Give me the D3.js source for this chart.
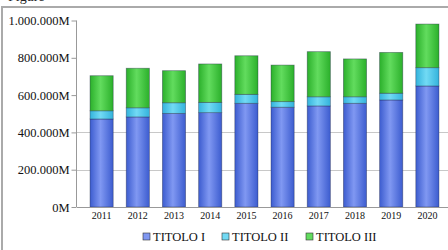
<!DOCTYPE html>
<html>
<head>
<meta charset="utf-8">
<script src="https://cdn.jsdelivr.net/npm/d3@7"></script>
<style>
  body { margin: 0; background: #fff; }
  svg { display: block; font-family: "Liberation Serif", "DejaVu Serif", serif; }
</style>
</head>
<body>
<svg id="chart" width="448" height="250"></svg>
<script>
// values (in M)
const years = ["2011", "2012", "2013", "2014", "2015", "2016", "2017", "2018", "2019", "2020"];
const titolo1 = [472000, 483000, 502000, 506000, 556000, 535000, 542000, 556000, 574000, 649000];
const titolo2 = [44000, 49000, 57000, 55000, 48000, 30000, 49000, 35000, 36000, 98000];
const titolo3 = [188000, 212000, 172000, 206000, 207000, 196000, 242000, 203000, 219000, 234000];
const seriesNames = ["TITOLO I", "TITOLO II", "TITOLO III"];
const yTicks = [0, 200000, 400000, 600000, 800000, 1000000];

const colors = {
  "TITOLO I": ["#3c5ccf", "#8098f2"],
  "TITOLO II": ["#33b3dc", "#72daf4"],
  "TITOLO III": ["#2bb02b", "#62dc5e"]
};

const svg = d3.select("#chart");
const W = 448, H = 250;

// frame + caption above it (cut off at the top, as in the picture)
svg.append("text").attr("x", 8).attr("y", 1)
  .attr("font-size", 14).attr("fill", "#222").text("Figure");
svg.append("rect").attr("x", 2).attr("y", 7).attr("width", W + 10).attr("height", H)
  .attr("fill", "#fff").attr("stroke", "#aaa").attr("stroke-width", 2);

const m = { left: 77, top: 20.5, bottom: 207 };
const x = d3.scaleBand().domain(years).range([m.left, m.left + 375]).padding(0.36);
const y = d3.scaleLinear().domain([0, 1000000]).range([m.bottom, m.top]);

// gradients for cylinder look
const defs = svg.append("defs");
seriesNames.forEach((s, i) => {
  const g = defs.append("linearGradient").attr("id", "g" + i)
    .attr("x1", "0%").attr("x2", "100%").attr("y1", "0%").attr("y2", "0%");
  g.append("stop").attr("offset", "0%").attr("stop-color", colors[s][0]);
  g.append("stop").attr("offset", "45%").attr("stop-color", colors[s][1]);
  g.append("stop").attr("offset", "100%").attr("stop-color", colors[s][0]);
});

// grid
svg.append("g").selectAll("line").data(yTicks.slice(1, 3)).join("line")
  .attr("x1", m.left).attr("x2", W)
  .attr("y1", d => Math.round(y(d)) + 0.5).attr("y2", d => Math.round(y(d)) + 0.5)
  .attr("stroke", "#c8c8c8");

// stacked bars
const rows = years.map((yr, i) => ({ year: yr, "TITOLO I": titolo1[i], "TITOLO II": titolo2[i], "TITOLO III": titolo3[i] }));
const stack = d3.stack().keys(seriesNames)(rows);

svg.append("g").selectAll("g").data(stack).join("g")
  .attr("fill", (d, i) => `url(#g${i})`)
  .selectAll("rect").data(d => d).join("rect")
  .attr("x", d => x(d.data.year))
  .attr("width", x.bandwidth())
  .attr("y", d => y(d[1]))
  .attr("height", d => y(d[0]) - y(d[1]))
  .attr("stroke", "#1c2440").attr("stroke-opacity", 0.45).attr("stroke-width", 0.8);

// y axis
const yAxis = svg.append("g").attr("transform", `translate(${m.left - 0.5},0)`)
  .call(d3.axisLeft(y).tickValues(yTicks).tickSize(5).tickPadding(2)
    .tickFormat(d => d3.format(",")(d).replace(/,/g, ".") + "M"));
yAxis.select(".domain").attr("stroke", "#999").attr("d", `M0,${m.bottom}V${m.top}`);
yAxis.selectAll(".tick line").attr("stroke", "#999");
yAxis.selectAll("text").attr("font-size", 12.5).attr("fill", "#111")
  .attr("font-family", "Liberation Serif, serif");

// x axis
svg.append("line").attr("x1", m.left).attr("x2", W).attr("y1", m.bottom + 0.5).attr("y2", m.bottom + 0.5)
  .attr("stroke", "#999");
svg.append("g").selectAll("text").data(years).join("text")
  .attr("x", d => x(d) + x.bandwidth() / 2).attr("y", 219)
  .attr("text-anchor", "middle").attr("font-size", 10).attr("fill", "#111")
  .text(d => d);

// legend
const legX = [143, 222, 306];
const leg = svg.append("g").selectAll("g").data(seriesNames).join("g")
  .attr("transform", (d, i) => `translate(${legX[i]},233)`);
leg.append("rect").attr("width", 7).attr("height", 7)
  .attr("fill", d => colors[d][1]).attr("stroke", "#333").attr("stroke-width", 0.6);
leg.append("text").attr("x", 10).attr("y", 8).attr("font-size", 12.5).attr("fill", "#111")
  .text(d => d);
</script>
</body>
</html>
